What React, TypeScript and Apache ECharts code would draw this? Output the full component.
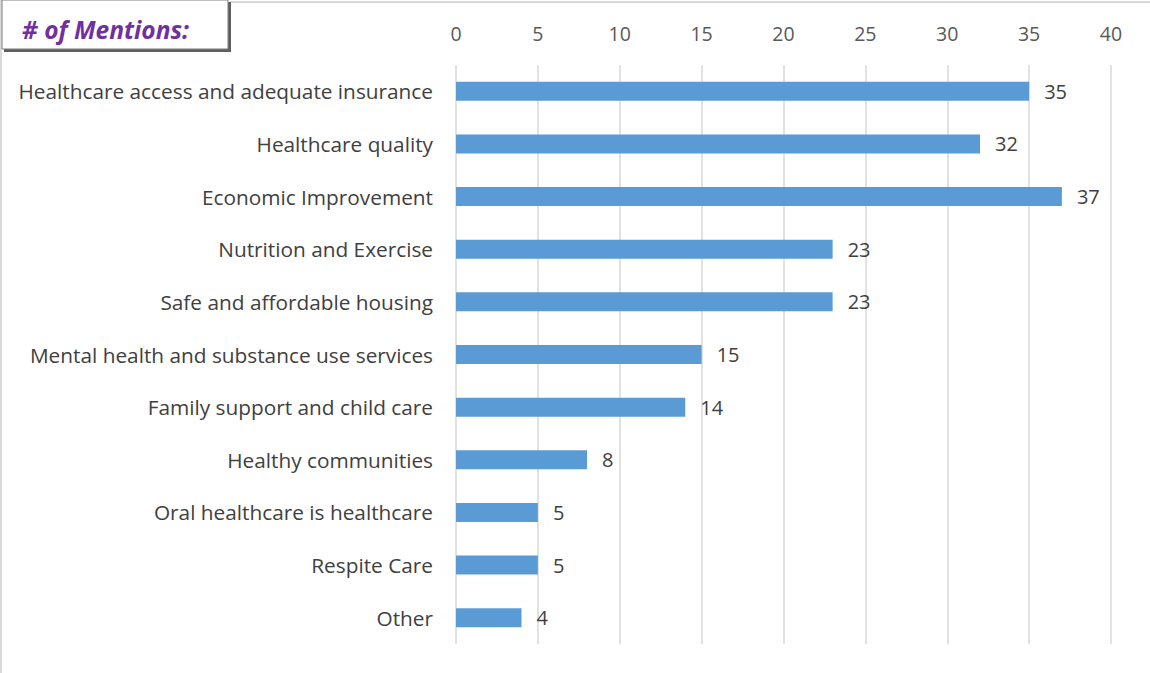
import React, { useEffect, useRef } from "react";
import * as echarts from "echarts";

const categories = [
  "Healthcare access and adequate insurance",
  "Healthcare quality",
  "Economic Improvement",
  "Nutrition and Exercise",
  "Safe and affordable housing",
  "Mental health and substance use services",
  "Family support and child care",
  "Healthy communities",
  "Oral healthcare is healthcare",
  "Respite Care",
  "Other",
];
const mentions = [35, 32, 37, 23, 23, 15, 14, 8, 5, 5, 4];
const tickMin = 0;
const tickMax = 40;
const tickStep = 5;
const boxTitle = "# of Mentions:";

export default function App() {
  const ref = useRef<HTMLDivElement>(null);
  useEffect(() => {
    document.body.style.margin = "0";
    const chart = echarts.init(ref.current!, null, { renderer: "svg" });
    const font = "'Open Sans', 'Liberation Sans', sans-serif";
    chart.setOption({
      animation: false,
      backgroundColor: "#ffffff",
      grid: { left: 456, right: 39, top: 65, bottom: 29, containLabel: false },
      xAxis: {
        type: "value",
        position: "top",
        min: tickMin,
        max: tickMax,
        interval: tickStep,
        axisLine: { show: false },
        axisTick: { show: false },
        axisLabel: { color: "#595959", fontSize: 19.5, fontFamily: font, margin: 22 },
        splitLine: { show: true, lineStyle: { color: "#d9d9d9", width: 1.5 } },
      },
      yAxis: {
        type: "category",
        data: categories,
        inverse: true,
        axisLine: { show: false },
        axisTick: { show: false },
        axisLabel: { color: "#404040", fontSize: 20.8, fontFamily: font, margin: 23 },
      },
      series: [
        {
          type: "bar",
          data: mentions,
          barWidth: 19,
          itemStyle: { color: "#5b9bd5" },
          label: {
            show: true,
            position: "right",
            distance: 15,
            color: "#404040",
            fontSize: 20,
            fontFamily: font,
          },
        },
      ],
      graphic: [
        { type: "line", shape: { x1: 230, y1: 2, x2: 1150, y2: 2 }, style: { stroke: "#d9d9d9", lineWidth: 2 } },
        { type: "line", shape: { x1: 1, y1: 0, x2: 1, y2: 673 }, style: { stroke: "#d9d9d9", lineWidth: 2 } },
        { type: "rect", shape: { x: 4, y: 2, width: 227, height: 50 }, style: { fill: "#5f5f5f" } },
        { type: "rect", shape: { x: 2, y: 0, width: 226, height: 49 }, style: { fill: "#ffffff", stroke: "#7f7f7f", lineWidth: 1 } },
        {
          type: "text",
          x: 22,
          y: 29,
          style: {
            text: boxTitle,
            fill: "#7030a0",
            fontSize: 24.5,
            fontStyle: "italic",
            fontWeight: "bold",
            fontFamily: font,
            verticalAlign: "middle",
          },
        },
      ],
    });
    return () => chart.dispose();
  }, []);
  return <div ref={ref} style={{ position: "fixed", left: 0, top: 0, width: 1150, height: 673 }} />;
}
